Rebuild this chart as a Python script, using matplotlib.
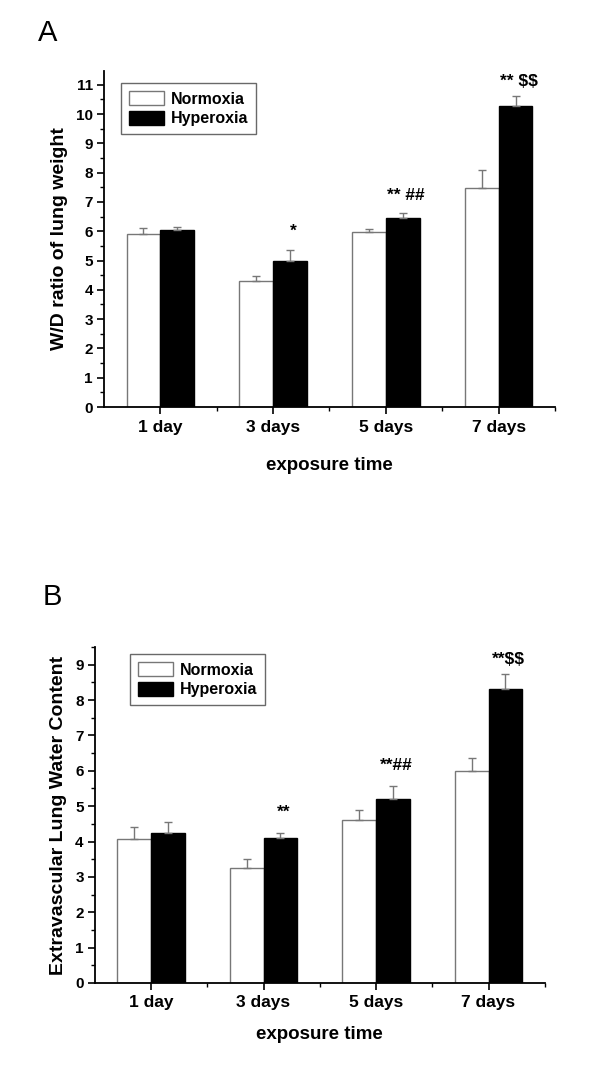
import numpy as np
import matplotlib.pyplot as plt
from matplotlib.ticker import MultipleLocator, FixedLocator

plt.rcParams['font.family'] = ['Liberation Sans', 'DejaVu Sans']

groups = ['1 day', '3 days', '5 days', '7 days']

# panel A: W/D ratio
wd_norm = [5.89, 4.30, 5.99, 7.47]
wd_norm_err = [0.21, 0.16, 0.08, 0.61]
wd_hyper = [6.04, 4.98, 6.46, 10.26]
wd_hyper_err = [0.11, 0.37, 0.16, 0.37]
wd_marks = ['', '*', '** ##', '** $$']
wd_mark_y = [0, 5.99, 7.21, 11.12]

# panel B: extravascular lung water
ev_norm = [4.07, 3.24, 4.60, 5.99]
ev_norm_err = [0.33, 0.27, 0.29, 0.37]
ev_hyper = [4.24, 4.10, 5.20, 8.31]
ev_hyper_err = [0.30, 0.14, 0.36, 0.44]
ev_marks = ['', '**', '**##', '**$$']
ev_mark_y = [0, 4.84, 6.15, 9.14]


def draw_panel(ax, norm, norm_err, hyper, hyper_err, marks, mark_y, ymax, ylabel,
               xlabpad, leg_anchor):
    x = np.arange(len(groups))
    w = 0.3
    ax.bar(x - w / 2, norm, w, color='white', edgecolor='#777777', linewidth=1.0,
           yerr=[np.zeros(len(norm)), norm_err], ecolor='#777777',
           error_kw=dict(elinewidth=1.0, capsize=3, capthick=1.0), label='Normoxia')
    ax.bar(x + w / 2, hyper, w, color='black', edgecolor='black', linewidth=1.0,
           yerr=[np.zeros(len(hyper)), hyper_err], ecolor='#777777',
           error_kw=dict(elinewidth=1.0, capsize=3, capthick=1.0), label='Hyperoxia')
    for i, m in enumerate(marks):
        if m:
            ax.text(x[i] + w / 2 + 0.03, mark_y[i], m, ha='center', va='center',
                    fontsize=12.5, fontweight='bold', parse_math=False)
    ax.set_xlim(-0.5, 3.5)
    ax.set_ylim(0, ymax)
    ax.yaxis.set_major_locator(MultipleLocator(1))
    ax.yaxis.set_minor_locator(MultipleLocator(0.5))
    ax.set_xticks(x)
    ax.set_xticklabels(groups, fontsize=12.5, fontweight='bold')
    ax.xaxis.set_minor_locator(FixedLocator([0.5, 1.5, 2.5, 3.5]))
    for lab in ax.get_yticklabels():
        lab.set_fontweight('bold')
        lab.set_fontsize(11)
    ax.tick_params(axis='both', which='major', direction='out', length=5, width=1.2, pad=3)
    ax.tick_params(axis='both', which='minor', direction='out', length=3, width=1.0)
    ax.tick_params(axis='x', which='major', pad=4)
    for s in ['top', 'right']:
        ax.spines[s].set_visible(False)
    for s in ['left', 'bottom']:
        ax.spines[s].set_linewidth(1.3)
    ax.set_xlabel('exposure time', fontsize=13.5, fontweight='bold', labelpad=xlabpad)
    ax.set_ylabel(ylabel, fontsize=14, fontweight='bold', labelpad=6)
    leg = ax.legend(loc='upper left', bbox_to_anchor=leg_anchor, fancybox=False,
                    edgecolor='#444444', handlelength=2.2, handleheight=1.0,
                    prop=dict(weight='bold', size=11.5), borderpad=0.5,
                    labelspacing=0.25, handletextpad=0.4, borderaxespad=0)
    leg.get_frame().set_linewidth(1.0)


fig = plt.figure(figsize=(6, 10.68), dpi=100)
axA = fig.add_axes([0.1733, 0.6189, 0.7517, 0.3146])
axB = fig.add_axes([0.158, 0.0796, 0.75, 0.3146])

draw_panel(axA, wd_norm, wd_norm_err, wd_hyper, wd_hyper_err, wd_marks, wd_mark_y,
           11.47, 'W/D ratio of lung weight', 16, (0.038, 0.964))
draw_panel(axB, ev_norm, ev_norm_err, ev_hyper, ev_hyper_err, ev_marks, ev_mark_y,
           9.5, 'Extravascular Lung Water Content', 11, (0.078, 0.979))

fig.text(0.08, 0.969, 'A', fontsize=21, ha='center', va='center')
fig.text(0.087, 0.441, 'B', fontsize=21, ha='center', va='center')

fig.savefig('out.png', dpi=100)
